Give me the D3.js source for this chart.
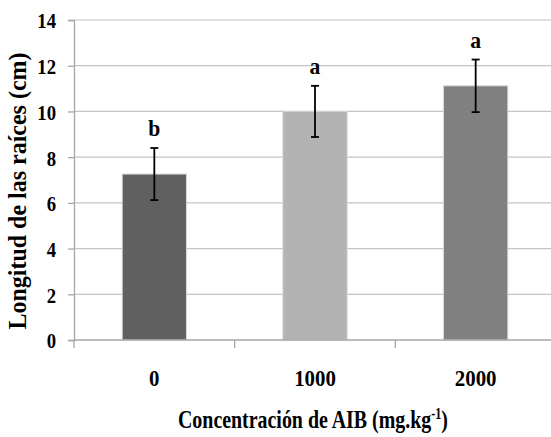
<html>
<head>
    <meta charset="utf-8">
    <title>Longitud de las raíces</title>
    <script src="https://cdn.jsdelivr.net/npm/d3@7"></script>
</head>
<style>
    html, body { margin: 0; padding: 0; background: #fff; }
    svg { display: block; }
</style>
<body>
<svg width="551" height="437" id="mainsvg"></svg>
<script>
    // data
    const categories = ['0', '1000', '2000'];
    const means = [7.26, 10.0, 11.12];
    const errors = [1.14, 1.12, 1.15];
    const letters = ['b', 'a', 'a'];
    const barColors = ['#606060', '#b3b3b3', '#808080'];
    const yTicks = [0, 2, 4, 6, 8, 10, 12, 14];

    const FONT = '"Liberation Serif", "Times New Roman", "DejaVu Serif", serif';

    const svg = d3.select('svg');
    const width = +svg.attr('width');
    const height = +svg.attr('height');
    const margin = {top: 20, right: -5, bottom: 97, left: 74};
    const innerWidth = width - margin.left - margin.right;
    const innerHeight = height - margin.top - margin.bottom;
    const g = svg.append('g').attr('transform', `translate(${margin.left}, ${margin.top})`);

    const xScale = d3.scaleBand().domain(categories).range([0, innerWidth])
        .paddingInner(0.6).paddingOuter(0.3);
    const yScale = d3.scaleLinear().domain([0, 14]).range([innerHeight, 0]);

    // gridlines
    g.append('g').selectAll('line').data(yTicks.filter(d => d > 0)).join('line')
        .attr('x1', 0).attr('x2', innerWidth)
        .attr('y1', d => yScale(d)).attr('y2', d => yScale(d))
        .attr('stroke', '#c4c4c4').attr('stroke-width', 1.2);

    // y axis
    const yAxis = g.append('g').call(d3.axisLeft(yScale).tickValues(yTicks).tickSize(6).tickPadding(12));
    yAxis.attr('font-family', null).attr('font-size', null);
    yAxis.select('.domain').attr('stroke', '#a6a6a6').attr('stroke-width', 1.3);
    yAxis.selectAll('.tick line').attr('stroke', '#a6a6a6').attr('stroke-width', 1.3);
    yAxis.selectAll('.tick text')
        .attr('font-family', FONT).attr('font-weight', 700).attr('font-size', 22)
        .attr('x', 0).attr('dy', '0.36em')
        .attr('transform', 'translate(-18,0) scale(0.85,1)');

    // bars
    g.selectAll('rect.bar').data(categories).join('rect')
        .attr('class', 'bar')
        .attr('x', d => xScale(d)).attr('width', xScale.bandwidth())
        .attr('y', (d, i) => yScale(means[i]))
        .attr('height', (d, i) => yScale(0) - yScale(means[i]))
        .attr('fill', (d, i) => barColors[i])
        .attr('stroke', '#d6d6d6').attr('stroke-width', 1);

    // x axis baseline + ticks between categories
    g.append('line').attr('x1', 0).attr('x2', innerWidth)
        .attr('y1', yScale(0)).attr('y2', yScale(0))
        .attr('stroke', '#a6a6a6').attr('stroke-width', 1.3);
    const step = xScale.step();
    g.selectAll('line.xtick').data(d3.range(categories.length + 1)).join('line')
        .attr('class', 'xtick')
        .attr('x1', i => i * step).attr('x2', i => i * step)
        .attr('y1', yScale(0)).attr('y2', yScale(0) + 8)
        .attr('stroke', '#a6a6a6').attr('stroke-width', 1.3);

    const xAxis = g.append('g').attr('transform', `translate(0, ${innerHeight})`)
        .call(d3.axisBottom(xScale).tickSize(0).tickPadding(0));
    xAxis.attr('font-family', null).attr('font-size', null);
    xAxis.select('.domain').remove();
    xAxis.selectAll('.tick text')
        .attr('font-family', FONT).attr('font-weight', 700).attr('font-size', 24)
        .attr('y', 0).attr('dy', 0)
        .attr('transform', 'translate(0,46) scale(0.87,1)');

    // error bars
    const cx = d => xScale(d) + xScale.bandwidth() / 2;
    const eb = g.append('g').attr('stroke', '#000').attr('stroke-width', 1.8);
    eb.selectAll('line.v').data(categories).join('line').attr('class', 'v')
        .attr('x1', cx).attr('x2', cx)
        .attr('y1', (d, i) => yScale(means[i] + errors[i]))
        .attr('y2', (d, i) => yScale(means[i] - errors[i]));
    eb.selectAll('line.t').data(categories).join('line').attr('class', 't')
        .attr('x1', d => cx(d) - 4).attr('x2', d => cx(d) + 4)
        .attr('y1', (d, i) => yScale(means[i] + errors[i]))
        .attr('y2', (d, i) => yScale(means[i] + errors[i]));
    eb.selectAll('line.b').data(categories).join('line').attr('class', 'b')
        .attr('x1', d => cx(d) - 4).attr('x2', d => cx(d) + 4)
        .attr('y1', (d, i) => yScale(means[i] - errors[i]))
        .attr('y2', (d, i) => yScale(means[i] - errors[i]));

    // significance letters
    g.selectAll('text.letter').data(categories).join('text').attr('class', 'letter')
        .attr('transform', (d, i) => `translate(${cx(d)},${yScale(means[i] + errors[i]) - 12}) scale(0.9,1)`)
        .attr('text-anchor', 'middle')
        .attr('font-family', FONT).attr('font-weight', 700)
        .attr('font-size', 24)
        .text((d, i) => letters[i]);

    // axis titles
    const xt = svg.append('text')
        .attr('x', 313).attr('y', 428)
        .attr('text-anchor', 'middle')
        .attr('font-family', FONT).attr('font-weight', 700)
        .attr('font-size', 26)
        .attr('textLength', 270).attr('lengthAdjust', 'spacingAndGlyphs');
    xt.append('tspan').text('Concentración de AIB (mg.kg');
    xt.append('tspan').attr('dy', -9).attr('font-size', 16).text('-1');
    xt.append('tspan').attr('dy', 9).text(')');

    svg.append('text')
        .attr('transform', 'translate(26, 191) rotate(-90)')
        .attr('text-anchor', 'middle')
        .attr('font-family', FONT).attr('font-weight', 700)
        .attr('font-size', 25)
        .attr('textLength', 277).attr('lengthAdjust', 'spacingAndGlyphs')
        .text('Longitud de las raíces (cm)');
</script>
</body>
</html>
